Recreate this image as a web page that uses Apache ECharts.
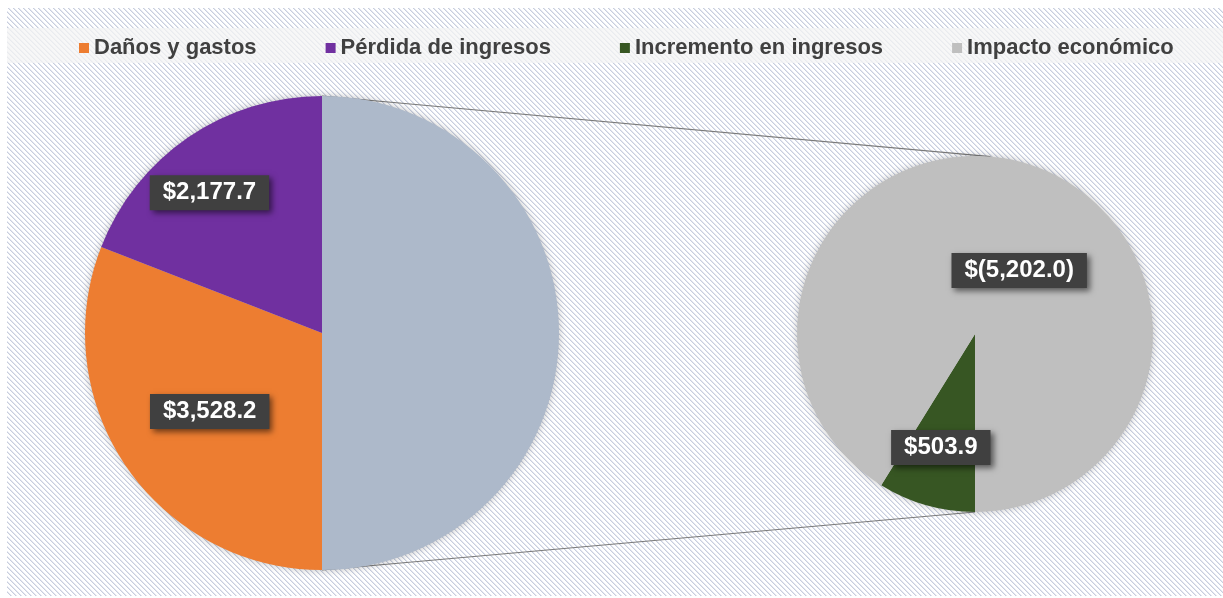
<!DOCTYPE html>
<html><head><meta charset="utf-8">
<script src="https://cdn.jsdelivr.net/npm/echarts@6/dist/echarts.min.js"></script>
<style>html,body{margin:0;padding:0;background:#fff}#c{width:1223px;height:598px}</style>
</head><body><div id="c"></div>
<script>
// ---- data ----
const mainCategories = ['Daños y gastos', 'Pérdida de ingresos'];
const mainValues = [3528.2, 2177.7];
const subCategories = ['Incremento en ingresos', 'Impacto económico'];
const subValues = [503.9, -5202.0];
const otherName = 'Otros (desglose)';
const legendNames = ['Daños y gastos', 'Pérdida de ingresos', 'Incremento en ingresos', 'Impacto económico'];

// ---- styles ----
const colorMap = {
  'Daños y gastos': '#ED7D31',
  'Pérdida de ingresos': '#7030A0',
  'Incremento en ingresos': '#375623',
  'Impacto económico': '#BFBFBF'
};
const otherColor = '#ADB9CA';
const labelOffsets = {
  'Daños y gastos': [-12, 10],
  'Pérdida de ingresos': [-44, -40],
  'Incremento en ingresos': [-9, 25],
  'Impacto económico': [19, 25]
};
const L = { cx: 322, cy: 333, r: 237 };
const R = { cx: 975, cy: 334, r: 178 };
const FONT = '"Liberation Sans", Arial, sans-serif';

function fmt(v) {
  const s = Math.abs(v).toLocaleString('en-US', { minimumFractionDigits: 1, maximumFractionDigits: 1 });
  return v < 0 ? '$(' + s + ')' : '$' + s;
}

// hatch pattern
const tile = document.createElement('canvas');
tile.width = 5; tile.height = 5;
const tctx = tile.getContext('2d');
const img = tctx.createImageData(5, 5);
for (let y = 0; y < 5; y++) for (let x = 0; x < 5; x++) {
  const k = ((x - y) % 5 + 5) % 5;
  let c = [255, 255, 255];
  if (k === 0) c = [200, 206, 222];
  else if (k === 1) c = [228, 231, 240];
  const i = (y * 5 + x) * 4;
  img.data[i] = c[0]; img.data[i + 1] = c[1]; img.data[i + 2] = c[2]; img.data[i + 3] = 255;
}
tctx.putImageData(img, 0, 0);

const labelBase = {
  show: true, position: 'inside', color: '#fff', fontWeight: 'bold', fontSize: 24, fontFamily: FONT,
  backgroundColor: '#404040', padding: [6, 13, 5, 13],
  shadowColor: 'rgba(0,0,0,0.55)', shadowBlur: 6, shadowOffsetX: 3, shadowOffsetY: 3,
  formatter: p => fmt(p.data.raw)
};
function item(name, v) {
  return {
    name, value: Math.abs(v), raw: v,
    itemStyle: { color: colorMap[name] },
    label: Object.assign({}, labelBase, { offset: labelOffsets[name] })
  };
}
const otherValue = subValues.reduce((a, b) => a + Math.abs(b), 0);
const leftData = [{ name: otherName, value: otherValue, raw: otherValue, itemStyle: { color: otherColor }, label: { show: false } }]
  .concat(mainCategories.map((n, i) => item(n, mainValues[i])));
const rightData = subCategories.map((n, i) => item(n, subValues[i]));

const a5 = 5 * Math.PI / 180;
const chart = echarts.init(document.getElementById('c'));
chart.setOption({
  animation: false,
  backgroundColor: '#fff',
  graphic: [
    { type: 'rect', z: -10, silent: true, shape: { x: 7, y: 8, width: 1216, height: 588 }, style: { fill: { image: tile, repeat: 'repeat' } } },
    { type: 'rect', z: -9, silent: true, shape: { x: 7, y: 28, width: 1216, height: 35 }, style: { fill: 'rgba(244,244,244,0.75)' } },
    { type: 'line', z: -5, silent: true, shape: { x1: L.cx, y1: L.cy - L.r, x2: R.cx + R.r * Math.sin(a5), y2: R.cy - R.r * Math.cos(a5) }, style: { stroke: '#7a7a7a', lineWidth: 1.2 } },
    { type: 'line', z: -5, silent: true, shape: { x1: L.cx, y1: L.cy + L.r, x2: R.cx, y2: R.cy + R.r }, style: { stroke: '#7a7a7a', lineWidth: 1.2 } },
    { type: 'circle', z: -4, silent: true, shape: { cx: L.cx, cy: L.cy, r: L.r - 1 }, style: { fill: '#ccc', shadowBlur: 8, shadowColor: 'rgba(0,0,0,0.3)' } },
    { type: 'circle', z: -4, silent: true, shape: { cx: R.cx, cy: R.cy, r: R.r - 1 }, style: { fill: '#ccc', shadowBlur: 8, shadowColor: 'rgba(0,0,0,0.3)' } }
  ],
  legend: {
    data: legendNames, left: 79, top: 37, padding: 0, itemGap: 69,
    icon: 'rect', itemWidth: 10, itemHeight: 10,
    textStyle: { color: '#404040', fontWeight: 'bold', fontSize: 22, fontFamily: FONT },
    selectedMode: false
  },
  series: [
    {
      type: 'pie', center: [L.cx, L.cy], radius: L.r, startAngle: 90, clockwise: true,
      data: leftData, labelLine: { show: false }, emphasis: { disabled: true }, silent: true
    },
    {
      type: 'pie', center: [R.cx, R.cy], radius: R.r, startAngle: -90, clockwise: true,
      data: rightData, labelLine: { show: false }, emphasis: { disabled: true }, silent: true
    }
  ]
});
</script></body></html>
